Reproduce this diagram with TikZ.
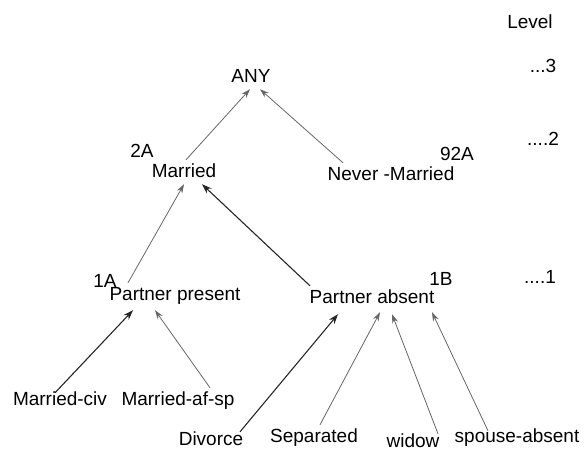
\documentclass[tikz,border=0pt]{standalone}
\usepackage{fontspec}
\setmainfont{Liberation Sans}
\usepackage{tikz}
\usetikzlibrary{arrows.meta}

\begin{document}
\begin{tikzpicture}[x=1pt, y=-1pt,
	word/.style={anchor=base, inner sep=3pt, text height=14pt, text depth=4pt,
		font=\fontsize{19pt}{22pt}\selectfont},
	tag/.style={anchor=base, inner sep=0pt, font=\fontsize{19pt}{22pt}\selectfont},
	arr/.style={-{Stealth[length=9pt, width=6pt]}, draw=black!60, line width=0.8pt},
	arrb/.style={-{Stealth[length=10pt, width=7pt]}, draw=black!85, line width=1.1pt}]
	\useasboundingbox (0,0) rectangle (585,453);

	% Level column
	\node[tag] (level) at (530,28) {Level};
	\node[tag] (lthree) at (543,72) {...3};
	\node[tag] (ltwo) at (543,145) {....2};
	\node[tag] (lone) at (540,283) {....1};

	% Level 3
	\node[word] (any) at (251,82) {ANY};

	% Level 2
	\node[word] (mar) at (184,177) {Married};
	\node[word] (nm) at (391,180) {Never -Married};
	\node[tag] (twoa) at (142,157) {2A};
	\node[tag] (ninetwoa) at (457,160) {92A};

	% Level 1
	\node[word] (pp) at (175,300) {Partner present};
	\node[word] (pa) at (372,303) {Partner absent};
	\node[tag] (onea) at (105,287) {1A};
	\node[tag] (oneb) at (441,285) {1B};

	% Level 0
	\node[word] (civ) at (60,405) {Married-civ};
	\node[word] (afsp) at (178,405) {Married-af-sp};
	\node[word] (div) at (211,445) {Divorce};
	\node[word] (sep) at (314,442) {Separated};
	\node[word] (wid) at (413,447) {widow};
	\node[word] (spa) at (517,442) {spouse-absent};

	% Arrows up to ANY
	\draw[arr] ([xshift=2pt]mar.north) -- ([xshift=-1pt]any.south);
	\draw[arr] ([xshift=-48pt]nm.north) -- ([xshift=9pt]any.south);

	% Arrows up to Married
	\draw[arr] ([xshift=-47pt]pp.north) -- ([xshift=0pt]mar.south);
	\draw[arrb] ([xshift=-62pt]pa.north) -- ([xshift=18pt]mar.south);

	% Arrows up to Partner present
	\draw[arrb] ([xshift=-5pt,yshift=-5pt]civ.north) -- ([xshift=-42pt,yshift=-3pt]pp.south);
	\draw[arr] ([xshift=32pt]afsp.north) -- ([xshift=-20pt,yshift=-3pt]pp.south);

	% Arrows up to Partner absent
	\draw[arrb] ([xshift=29pt,yshift=-4pt]div.north) -- ([xshift=-34pt,yshift=-4pt]pa.south);
	\draw[arr] ([xshift=6pt]sep.north) -- ([xshift=8pt,yshift=-2pt]pa.south);
	\draw[arr] ([xshift=25pt,yshift=-4pt]wid.north) -- ([xshift=20pt,yshift=-4pt]pa.south);
	\draw[arr] ([xshift=-29pt,yshift=-6pt]spa.north) -- ([xshift=60pt,yshift=-2pt]pa.south);

\end{tikzpicture}
\end{document}
